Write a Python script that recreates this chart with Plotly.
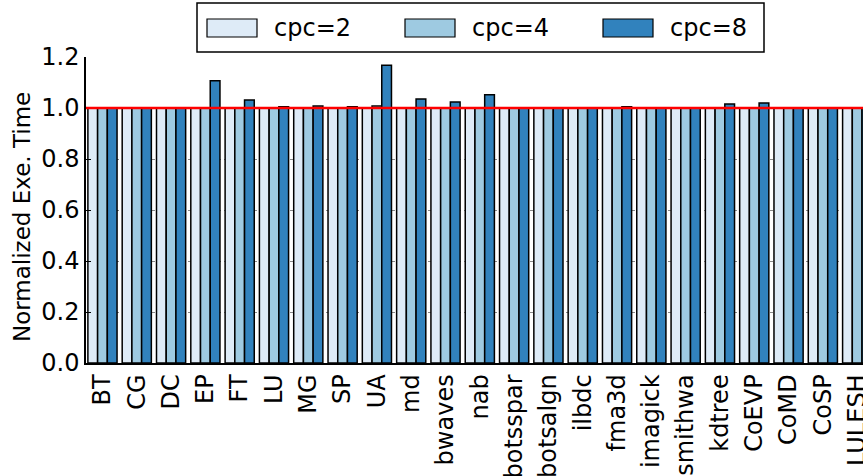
import plotly.graph_objects as go

# Benchmarks and normalized execution time per cores-per-chip setting
benchmarks = ["BT", "CG", "DC", "EP", "FT", "LU", "MG", "SP", "UA", "md",
              "bwaves", "nab", "botsspar", "botsalgn", "ilbdc", "fma3d",
              "imagick", "smithwa", "kdtree", "CoEVP", "CoMD", "CoSP", "LULESH"]

cpc2 = [1.0] * 23
cpc4 = [1.0, 1.0, 1.0, 1.0, 1.0, 1.0, 1.0, 1.0, 1.008, 1.0,
        1.0, 1.0, 1.0, 1.0, 1.0, 1.0,
        1.0, 1.0, 1.0, 1.0, 1.0, 1.0, 1.0]
cpc8 = [1.0, 1.0, 1.0, 1.107, 1.031, 1.005, 1.008, 1.005, 1.168, 1.035,
        1.024, 1.052, 1.0, 1.0, 1.0, 1.005,
        1.0, 1.0, 1.016, 1.02, 1.0, 1.0, 1.0]

series_names = ["cpc=2", "cpc=4", "cpc=8"]
series_values = [cpc2, cpc4, cpc8]
series_colors = ["#deebf7", "#9ecae1", "#3182bd"]

y_ticks = [0.0, 0.2, 0.4, 0.6, 0.8, 1.0, 1.2]
y_title = "Normalized Exe. Time"

FONT = "DejaVu Sans"
W, H = 863, 476
ML, MR, MT, MB = 86, 0, 57, 113

fig = go.Figure()
for name, vals, col in zip(series_names, series_values, series_colors):
    fig.add_trace(go.Bar(
        x=benchmarks, y=vals, name=name,
        marker=dict(color=col, line=dict(color="black", width=1.5)),
        showlegend=False,
    ))

# Baseline at 1.0
fig.add_shape(type="line", xref="paper", x0=0, x1=1, yref="y", y0=1.0, y1=1.0,
              line=dict(color="#ff0000", width=2.5), layer="above")

pw, ph = W - ML - MR, H - MT - MB
def px(x):
    return (x - ML) / pw
def py(y):
    return (H - MB - y) / ph

# Y-axis title
fig.add_annotation(xref="paper", yref="paper", x=px(22), y=py(217),
                   text=y_title, textangle=-90, showarrow=False,
                   xanchor="center", yanchor="middle",
                   font=dict(family=FONT, size=23, color="black"))

# Boxed legend above the plot area
fig.add_shape(type="rect", xref="paper", yref="paper",
              x0=px(197), x1=px(764), y0=py(52), y1=py(3),
              line=dict(color="black", width=1.5), fillcolor="white")
swatch_x = [207, 405, 603]
for sx, name, col in zip(swatch_x, series_names, series_colors):
    fig.add_shape(type="rect", xref="paper", yref="paper",
                  x0=px(sx), x1=px(sx + 50), y0=py(37), y1=py(19),
                  line=dict(color="black", width=1.2), fillcolor=col)
    fig.add_annotation(xref="paper", yref="paper", x=px(sx + 65), y=py(28),
                       text=name, showarrow=False, xanchor="left", yanchor="middle",
                       font=dict(family=FONT, size=24, color="black"))

fig.update_layout(
    width=W, height=H,
    margin=dict(l=ML, r=MR, t=MT, b=MB, pad=0, autoexpand=False),
    paper_bgcolor="white", plot_bgcolor="white",
    barmode="group", bargap=0.15, bargroupgap=0,
    font=dict(family=FONT, size=24, color="black"),
)
fig.update_xaxes(
    range=[-0.48, 22.17], tickangle=-90, showline=True, linecolor="black",
    linewidth=1.5, ticks="", showgrid=False, tickfont=dict(size=24),
    automargin=False,
)
fig.update_yaxes(
    range=[0, 1.2], tickvals=y_ticks, ticktext=[f"{v:.1f}" for v in y_ticks],
    showline=True, linecolor="black", linewidth=1.5, ticks="inside",
    ticklen=5, tickcolor="black", showgrid=True, gridcolor="#888888",
    griddash="dot", gridwidth=1, zeroline=False, tickfont=dict(size=24),
    automargin=False,
)

fig.write_html("out.html")
